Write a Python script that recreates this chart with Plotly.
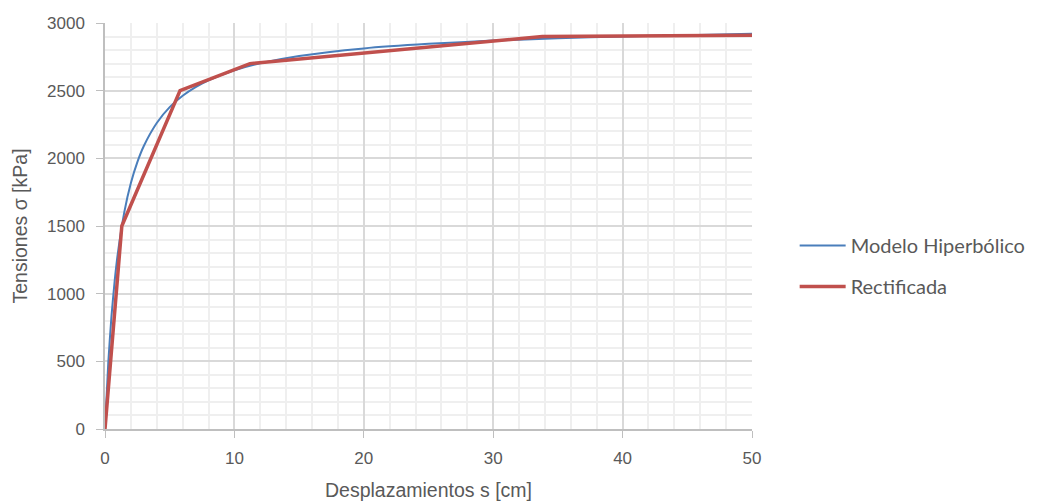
import plotly.graph_objects as go

# Modelo Hiperbólico
s_hip = [0, 0.25, 0.5, 0.75, 1, 1.5, 2, 2.5, 3, 4, 5, 6, 7, 8, 10, 12, 15, 20, 25, 30, 35, 40, 45, 50]
sig_hip = [0, 484, 833, 1097, 1304, 1606, 1817, 1972, 2091, 2261, 2378, 2462, 2526, 2576, 2650, 2702,
           2756, 2812, 2846, 2870, 2887, 2900, 2910, 2920]

# Rectificada
s_rect = [0, 1.3, 5.8, 11.2, 33.8, 50]
sig_rect = [0, 1500, 2500, 2700, 2900, 2910]

x_ticks = [0, 10, 20, 30, 40, 50]
y_ticks = [0, 500, 1000, 1500, 2000, 2500, 3000]

fig = go.Figure()
fig.add_trace(go.Scatter(x=s_hip, y=sig_hip, mode="lines", name="Modelo Hiperbólico",
                         legendgroup="a",
                         line=dict(color="#4a7ebb", width=2, shape="spline", smoothing=0.6)))
fig.add_trace(go.Scatter(x=s_rect, y=sig_rect, mode="lines", name="Rectificada",
                         legendgroup="b",
                         line=dict(color="#c0504d", width=3.5)))

tick_font = dict(family="Liberation Sans, Arial, sans-serif", size=17, color="#595959")
title_font = dict(family="Liberation Sans, Arial, sans-serif", size=19.5, color="#595959")
fig.update_layout(
    width=1031, height=496,
    margin=dict(l=97, r=287, t=15, b=75),
    paper_bgcolor="white", plot_bgcolor="white",
    showlegend=True,
    legend=dict(x=0.763, y=0.48, xref="container", yref="container",
                xanchor="left", yanchor="middle",
                font=dict(family="Lato, Noto Sans, sans-serif", size=20, color="#595959"),
                tracegroupgap=12, itemwidth=46, bgcolor="rgba(0,0,0,0)"),
    xaxis=dict(range=[0, 50], tickvals=x_ticks, ticktext=[str(v) for v in x_ticks],
               showgrid=True, gridcolor="#d9d9d9", gridwidth=1.5,
               minor=dict(dtick=2, showgrid=True, gridcolor="#efefef", gridwidth=1.5),
               showline=True, linecolor="#bfbfbf", linewidth=1.5,
               ticks="outside", ticklen=7, tickcolor="#bfbfbf", ticklabelstandoff=6,
               tickfont=tick_font, zeroline=False, automargin=False,
               title=dict(text="Desplazamientos s [cm]", font=title_font, standoff=16)),
    yaxis=dict(range=[0, 3000], tickvals=y_ticks, ticktext=[str(v) for v in y_ticks],
               showgrid=True, gridcolor="#d9d9d9", gridwidth=1.5,
               minor=dict(dtick=100, showgrid=True, gridcolor="#efefef", gridwidth=1.5),
               showline=True, linecolor="#bfbfbf", linewidth=1.5,
               ticks="outside", ticklen=7, tickcolor="#bfbfbf", ticklabelstandoff=8,
               tickfont=tick_font, zeroline=False, automargin=False,
               title=dict(text="Tensiones σ [kPa]", font=title_font, standoff=14)),
)

fig.write_html("out.html")
